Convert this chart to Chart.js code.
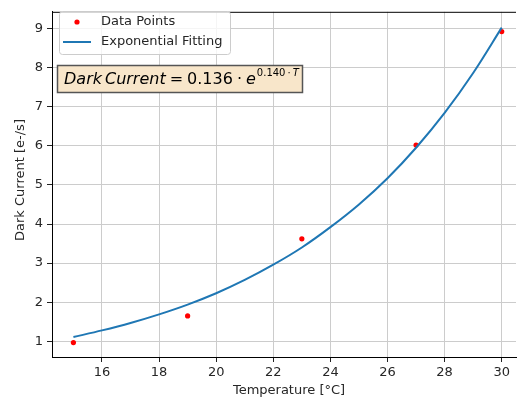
<!DOCTYPE html>
<html>
<head>
<meta charset="utf-8">
<script src="https://cdn.jsdelivr.net/npm/chart.js@4"></script>
<style>
  html, body { margin: 0; padding: 0; background: #fff; }
  #wrap { width: 520px; height: 404px; }
</style>
</head>
<body>
<div id="wrap"><canvas id="chart" width="520" height="404"></canvas></div>
<script>
// ── Data ────────────────────────────────────────────────────────────────
const pointTemps   = [15, 19, 23, 27, 30];
const pointCurrent = [0.97, 1.65, 3.62, 6.02, 8.92];

// fitted curve
const fitTemps   = [15, 16, 17, 18, 19, 20, 21, 22, 23, 24, 25, 26, 27, 28, 29, 30];
const fitCurrent = [1.11, 1.28, 1.47, 1.69, 1.94, 2.23, 2.57, 2.96, 3.40, 3.92, 4.50, 5.17, 5.95, 6.84, 7.86, 9.02];

const xTicks = [16, 18, 20, 22, 24, 26, 28, 30];
const yTicks = [1, 2, 3, 4, 5, 6, 7, 8, 9];

const FONT = '"DejaVu Sans", sans-serif';
const TEXT = '#262626';

// ── Overlay: top spine, legend, formula box, axis titles ───────────────
const overlay = {
  id: 'overlay',
  afterDraw(chart) {
    const ctx = chart.ctx;
    const a = chart.chartArea;
    ctx.save();

    // top spine
    ctx.strokeStyle = '#000';
    ctx.lineWidth = 1;
    ctx.beginPath();
    ctx.moveTo(a.left, a.top + 0.5);
    ctx.lineTo(a.right, a.top + 0.5);
    ctx.stroke();

    // legend
    ctx.fillStyle = 'rgba(255,255,255,0.8)';
    ctx.strokeStyle = '#cccccc';
    ctx.beginPath();
    ctx.roundRect(59.5, 11.5, 171, 43, 3);
    ctx.fill();
    ctx.stroke();

    ctx.fillStyle = '#ff0000';
    ctx.beginPath();
    ctx.arc(77, 22, 2.6, 0, Math.PI * 2);
    ctx.fill();

    ctx.strokeStyle = '#1f77b4';
    ctx.lineWidth = 2;
    ctx.beginPath();
    ctx.moveTo(63, 42);
    ctx.lineTo(91, 42);
    ctx.stroke();

    ctx.fillStyle = TEXT;
    ctx.font = '13px ' + FONT;
    ctx.textBaseline = 'middle';
    ctx.textAlign = 'left';
    ctx.fillText('Data Points', 101, 22);
    ctx.fillText('Exponential Fitting', 101, 42);

    // formula box
    ctx.fillStyle = '#f8e6ca';
    ctx.strokeStyle = '#555555';
    ctx.lineWidth = 1.5;
    ctx.beginPath();
    ctx.rect(57.5, 65.5, 245, 27);
    ctx.fill();
    ctx.stroke();

    // math-style pieces: [font, text, gap before, raise]
    const base = 84;
    let x = 64;
    const parts = [
      ['italic 16px ' + FONT, 'Dark', 0, 0],
      ['italic 16px ' + FONT, 'Current', 3, 0],
      ['16px ' + FONT, '=', 4, 0],
      ['16px ' + FONT, '0.136', 4, 0],
      ['16px ' + FONT, '\u00b7', 4, 0],
      ['italic 16px ' + FONT, 'e', 4, 0],
      ['10px ' + FONT, '0.140', 1, -8],
      ['10px ' + FONT, '\u00b7', 2, -8],
      ['italic 10px ' + FONT, 'T', 2, -8],
    ];
    ctx.fillStyle = '#000';
    ctx.textBaseline = 'alphabetic';
    parts.forEach(([f, s, gap, dy]) => {
      ctx.font = f;
      x += gap;
      ctx.fillText(s, x, base + dy);
      x += ctx.measureText(s).width;
    });

    // axis titles
    ctx.fillStyle = TEXT;
    ctx.font = '13px ' + FONT;
    ctx.textAlign = 'center';
    ctx.textBaseline = 'middle';
    ctx.fillText('Temperature [\u00b0C]', 289, 391);
    ctx.translate(21, 180);
    ctx.rotate(-Math.PI / 2);
    ctx.fillText('Dark Current [e-/s]', 0, 0);

    ctx.restore();
  }
};

new Chart(document.getElementById('chart'), {
  type: 'scatter',
  data: {
    datasets: [
      {
        label: 'Exponential Fitting',
        data: fitTemps.map((t, i) => ({ x: t, y: fitCurrent[i] })),
        showLine: true,
        borderColor: '#1f77b4',
        borderWidth: 2,
        pointRadius: 0,
        cubicInterpolationMode: 'monotone',
        order: 0,
      },
      {
        label: 'Data Points',
        data: pointTemps.map((t, i) => ({ x: t, y: pointCurrent[i] })),
        backgroundColor: '#ff0000',
        borderWidth: 0,
        pointRadius: 2.6,
        order: 1,
      },
    ],
  },
  options: {
    responsive: false,
    animation: false,
    devicePixelRatio: 1,
    layout: { padding: { top: 4, left: 0, right: 0, bottom: 0 } },
    plugins: { legend: { display: false }, tooltip: { enabled: false } },
    scales: {
      x: {
        type: 'linear',
        min: 14.25,
        max: 30.5,
        afterBuildTicks: s => { s.ticks = xTicks.map(v => ({ value: v })); },
        afterFit: s => { s.height = 47; },
        grid: { color: '#cccccc', tickColor: '#222', tickLength: 5, lineWidth: 1 },
        border: { color: '#000', width: 1 },
        ticks: { color: TEXT, font: { family: FONT, size: 13 }, padding: 3, maxRotation: 0 },
      },
      y: {
        type: 'linear',
        min: 0.6,
        max: 9.425,
        afterBuildTicks: s => { s.ticks = yTicks.map(v => ({ value: v })); },
        afterFit: s => { s.width = 52; },
        grid: { color: '#cccccc', tickColor: '#222', tickLength: 5, lineWidth: 1 },
        border: { color: '#000', width: 1 },
        ticks: { color: TEXT, font: { family: FONT, size: 13 }, padding: 4 },
      },
    },
  },
  plugins: [overlay],
});
</script>
</body>
</html>
